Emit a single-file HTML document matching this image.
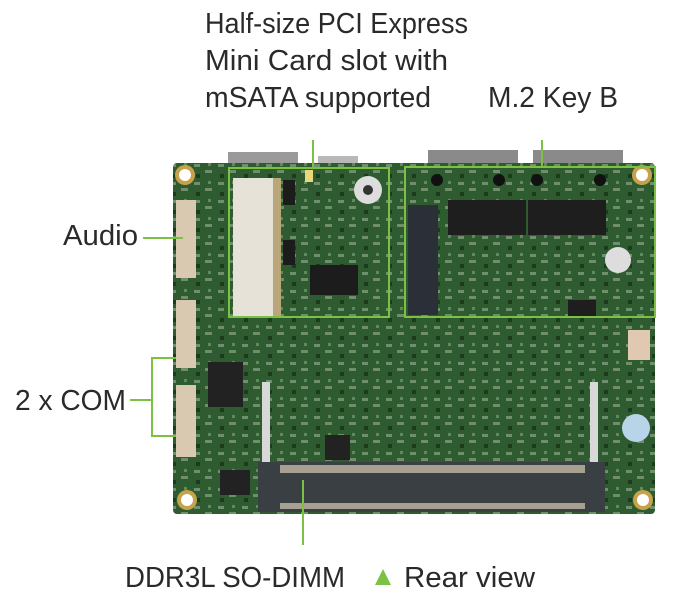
<!DOCTYPE html>
<html><head><style>
html,body{margin:0;padding:0;background:#fff;width:695px;height:597px;overflow:hidden}
svg{display:block}
text{font-family:"Liberation Sans",sans-serif;font-size:29px;fill:#2a2a2a}
</style></head><body>
<svg width="695" height="597" viewBox="0 0 695 597">
<defs>
<pattern id="tex" width="24" height="18" patternUnits="userSpaceOnUse">
<rect width="24" height="18" fill="#2f5b30"/>
<rect x="2" y="2" width="6" height="3" fill="#8aa588" opacity="0.7"/>
<rect x="13" y="8" width="7" height="3" fill="#9bb096" opacity="0.6"/>
<rect x="4" y="12" width="4" height="4" fill="#1c3a1d"/>
<rect x="16" y="1" width="3" height="3" fill="#5f8a5c"/>
</pattern>
</defs>
<!-- top connectors -->
<rect x="228" y="152" width="70" height="14" fill="#9a9a9a"/>
<rect x="318" y="156" width="40" height="10" fill="#b8b8b8"/>
<rect x="428" y="150" width="90" height="16" fill="#8a8a8a"/>
<rect x="533" y="150" width="90" height="16" fill="#8a8a8a"/>
<!-- board -->
<rect x="173" y="163" width="482" height="351" rx="4" fill="url(#tex)"/>
<rect x="290" y="175" width="95" height="140" fill="url(#tex)"/>
<!-- mounting holes -->
<g fill="#c7a24a"><circle cx="185" cy="175" r="10"/><circle cx="642" cy="175" r="10"/><circle cx="187" cy="500" r="10"/><circle cx="643" cy="500" r="10"/></g>
<g fill="#fff"><circle cx="185" cy="175" r="6"/><circle cx="642" cy="175" r="6"/><circle cx="187" cy="500" r="6"/><circle cx="643" cy="500" r="6"/></g>
<!-- left connectors -->
<rect x="176" y="200" width="20" height="78" fill="#d9c9b0"/>
<rect x="176" y="300" width="20" height="68" fill="#d9c9b0"/>
<rect x="176" y="385" width="20" height="72" fill="#d9c9b0"/>
<!-- minicard slot -->
<rect x="233" y="178" width="40" height="140" fill="#e6e2d8"/>
<rect x="273" y="178" width="8" height="140" fill="#b9a77a"/>
<circle cx="368" cy="190" r="14" fill="#ddd"/><circle cx="368" cy="190" r="5" fill="#333"/>
<rect x="310" y="265" width="48" height="30" fill="#1c1c1c"/>
<rect x="283" y="180" width="12" height="25" fill="#1c1c1c"/>
<rect x="283" y="240" width="12" height="25" fill="#1c1c1c"/>
<rect x="305" y="170" width="8" height="12" fill="#e8d87a"/>
<!-- m.2 slot -->
<rect x="408" y="205" width="30" height="110" fill="#2b3038"/>
<!-- LAN chips -->
<rect x="448" y="200" width="78" height="35" fill="#1e1e1e"/>
<rect x="528" y="200" width="78" height="35" fill="#1e1e1e"/>
<g fill="#111"><circle cx="437" cy="180" r="6"/><circle cx="499" cy="180" r="6"/><circle cx="537" cy="180" r="6"/><circle cx="600" cy="180" r="6"/></g>
<circle cx="618" cy="260" r="13" fill="#ddd"/>
<rect x="568" y="300" width="28" height="18" fill="#1e1e1e"/>
<!-- misc chips -->
<rect x="208" y="362" width="35" height="45" fill="#222"/>
<rect x="220" y="470" width="30" height="25" fill="#222"/>
<rect x="325" y="435" width="25" height="25" fill="#222"/>
<rect x="628" y="330" width="22" height="30" fill="#e0c9b0"/>
<circle cx="636" cy="428" r="14" fill="#b8d4e8"/>
<!-- SO-DIMM -->
<rect x="258" y="462" width="347" height="50" fill="#3a3f44"/>
<rect x="280" y="465" width="305" height="8" fill="#a5a090"/>
<rect x="280" y="503" width="305" height="6" fill="#a5a090"/>
<rect x="262" y="382" width="8" height="80" fill="#d8d8d8"/>
<rect x="590" y="382" width="8" height="80" fill="#d8d8d8"/>
<!-- green boxes and leaders -->
<g stroke="#7cc143" stroke-width="2" fill="none">
<rect x="229" y="168" width="160" height="149"/>
<rect x="405" y="167" width="250" height="150"/>
<line x1="313" y1="140" x2="313" y2="168"/>
<line x1="542" y1="140" x2="542" y2="167"/>
<line x1="143" y1="238" x2="183" y2="238"/>
<polyline points="176,358 152,358 152,436 176,436"/>
<line x1="130" y1="400" x2="152" y2="400"/>
<line x1="303" y1="480" x2="303" y2="545"/>
</g>
<!-- labels -->
<text x="205" y="33" textLength="263" lengthAdjust="spacingAndGlyphs">Half-size PCI Express</text>
<text x="205" y="70" textLength="243" lengthAdjust="spacingAndGlyphs">Mini Card slot with</text>
<text x="205" y="107" textLength="226" lengthAdjust="spacingAndGlyphs">mSATA supported</text>
<text x="488" y="107" textLength="130" lengthAdjust="spacingAndGlyphs">M.2 Key B</text>
<text x="63" y="245" textLength="75" lengthAdjust="spacingAndGlyphs">Audio</text>
<text x="15" y="410" textLength="111" lengthAdjust="spacingAndGlyphs">2 x COM</text>
<text x="125" y="587" textLength="220" lengthAdjust="spacingAndGlyphs">DDR3L SO-DIMM</text>
<polygon points="375,585 383,569 391,585" fill="#7cc143"/>
<text x="404" y="587" textLength="131" lengthAdjust="spacingAndGlyphs">Rear view</text>
</svg>
</body></html>
